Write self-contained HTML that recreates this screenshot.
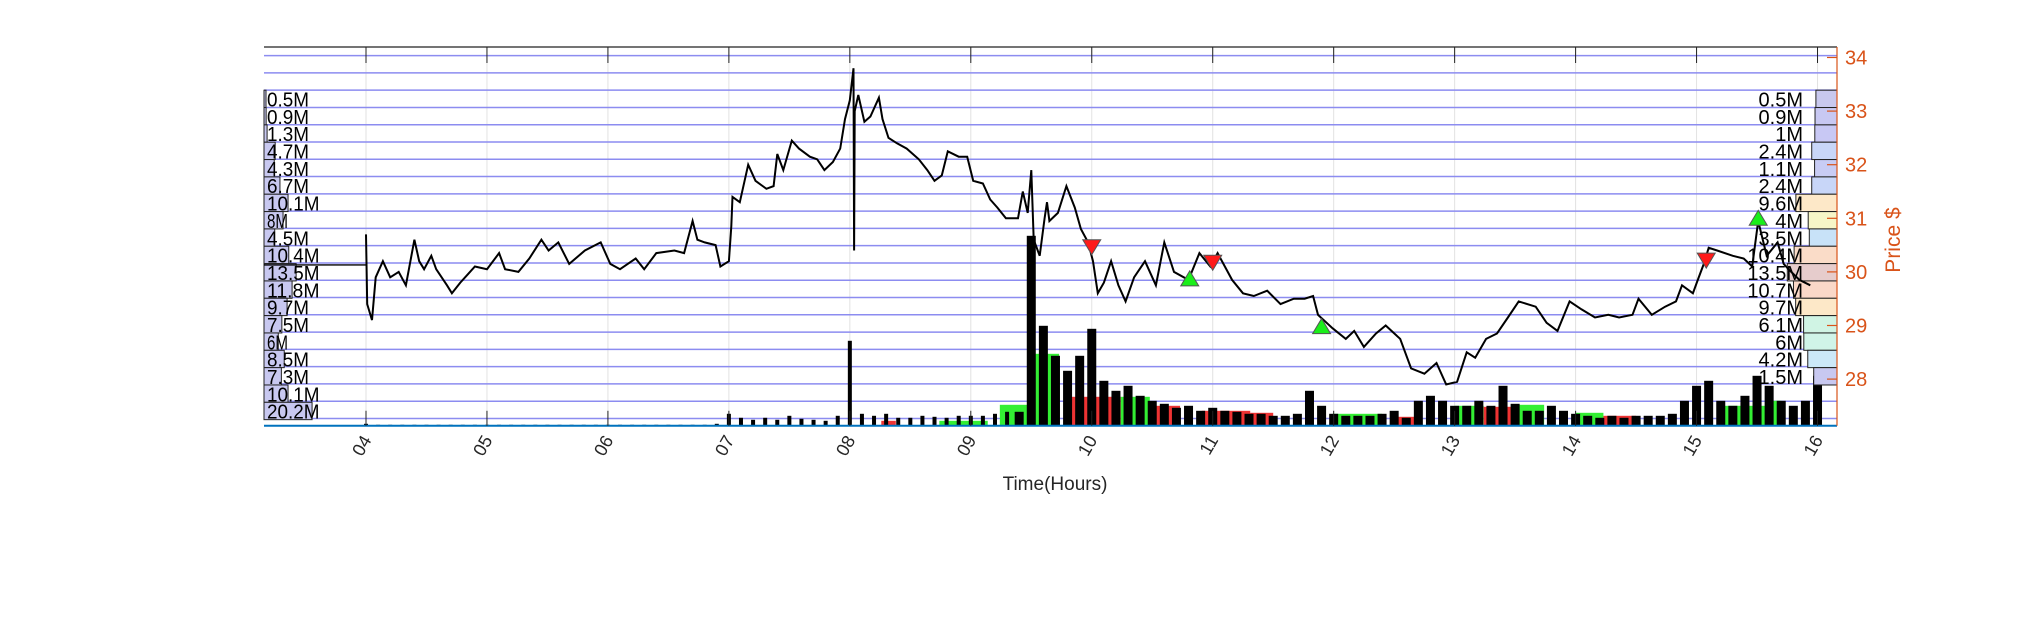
<!DOCTYPE html>
<html><head><meta charset="utf-8"><style>
html,body{margin:0;padding:0;background:#fff;}
svg{display:block;font-family:"Liberation Sans",sans-serif;}
</style></head><body>
<svg id="chart" width="2031" height="625" viewBox="0 0 2031 625" xmlns="http://www.w3.org/2000/svg">
<rect width="2031" height="625" fill="#fff"/>
<g id="grid"></g><g id="vol"></g><g id="profileL"></g><g id="profileR"></g><g id="price"></g><g id="marks"></g><g id="axes"></g>
</svg>
<script>
const hourTicks=["04","05","06","07","08","09","10","11","12","13","14","15","16"];
const priceTicks=[28,29,30,31,32,33,34];
const priceHours=[4.00,4.01,4.05,4.08,4.14,4.20,4.27,4.33,4.40,4.44,4.48,4.54,4.58,4.67,4.71,4.78,4.84,4.90,5.00,5.10,5.15,5.26,5.35,5.45,5.51,5.59,5.68,5.81,5.94,6.02,6.10,6.23,6.30,6.40,6.55,6.63,6.70,6.74,6.80,6.89,6.93,7.00,7.02,7.03,7.09,7.16,7.22,7.31,7.37,7.40,7.45,7.52,7.58,7.67,7.73,7.79,7.86,7.92,7.96,8.00,8.03,8.035,8.04,8.07,8.12,8.17,8.24,8.27,8.32,8.39,8.47,8.57,8.64,8.70,8.76,8.81,8.90,8.97,9.02,9.10,9.16,9.22,9.29,9.39,9.43,9.47,9.50,9.52,9.57,9.61,9.63,9.65,9.72,9.79,9.86,9.91,9.97,10.01,10.05,10.10,10.16,10.22,10.28,10.35,10.44,10.53,10.60,10.68,10.80,10.89,10.98,11.04,11.16,11.25,11.34,11.45,11.56,11.67,11.76,11.83,11.87,11.99,12.10,12.17,12.25,12.35,12.43,12.55,12.64,12.75,12.85,12.93,13.02,13.10,13.17,13.26,13.35,13.44,13.53,13.67,13.76,13.85,13.95,14.05,14.16,14.27,14.36,14.47,14.52,14.63,14.74,14.83,14.88,14.97,15.01,15.06,15.10,15.17,15.30,15.39,15.46,15.51,15.58,15.67,15.72,15.76,15.85,15.94];
const prices=[30.7,29.4,29.1,29.9,30.2,29.9,30.0,29.75,30.6,30.2,30.05,30.3,30.05,29.75,29.6,29.8,29.95,30.1,30.05,30.35,30.05,30.0,30.25,30.6,30.4,30.55,30.15,30.4,30.55,30.15,30.05,30.25,30.05,30.35,30.4,30.35,30.95,30.6,30.55,30.5,30.1,30.2,30.85,31.4,31.3,32.0,31.7,31.55,31.6,32.2,31.9,32.45,32.3,32.15,32.1,31.9,32.05,32.3,32.85,33.2,33.8,30.4,33.0,33.3,32.8,32.9,33.25,32.85,32.5,32.4,32.3,32.1,31.9,31.7,31.8,32.25,32.15,32.15,31.7,31.65,31.35,31.2,31.0,31.0,31.5,31.1,31.9,30.6,30.3,31.0,31.3,30.95,31.1,31.6,31.2,30.8,30.55,30.2,29.6,29.8,30.2,29.75,29.45,29.9,30.2,29.75,30.55,30.0,29.85,30.35,30.1,30.35,29.85,29.6,29.55,29.65,29.4,29.5,29.5,29.55,29.2,28.95,28.75,28.9,28.6,28.85,29.0,28.75,28.2,28.1,28.3,27.9,27.95,28.5,28.4,28.75,28.85,29.15,29.45,29.35,29.05,28.9,29.45,29.3,29.15,29.2,29.15,29.2,29.5,29.2,29.35,29.45,29.75,29.6,29.85,30.15,30.45,30.4,30.3,30.25,30.1,30.95,30.3,30.55,30.15,30.05,29.85,29.75];
const openPrice=30.13;
const sellHours=[10.0,11.0,15.08];
const sellPrices=[30.47,30.18,30.22];
const buyHours=[10.81,11.9,15.51];
const buyPrices=[29.87,28.98,31.0];
const volHours0=4.0;
const volumes=[2,1,1,1,1,1,1,1,1,1, 1,1,1,1,1,1,1,1,1,1, 1,1,1,1,1,1,1,1,1,2, 12,8,6,8,6,10,7,6,5,10, 85,12,10,12,8,8,10,9,8,10, 10,10,12,14,14,190,100,70,55,70, 97,45,35,40,30,25,22,18,20,15, 18,15,14,12,12,10,10,12,35,20, 12,10,10,10,12,15,8,25,30,25, 20,20,25,20,40,22,15,15,20,15, 12,10,8,10,8,10,10,10,12,25, 40,45,25,20,30,50,40,25,20,25, 50];
const blockStart=[8.26,8.74,9.24,9.5,9.82,10.24,10.53,10.91,11.31,11.99,12.52,13.0,13.24,13.51,14.0,14.23,15.22,15.62];
const blockEnd=[8.38,9.14,9.48,9.73,10.24,10.48,10.73,11.31,11.5,12.4,12.7,13.24,13.49,13.74,14.23,14.5,15.62,15.7];
const blockVol=[5,5,21,72,29,29,20,15,13,12,9,20,19,21,13,10,20,25];
const blockUp=[0,1,1,1,0,1,0,0,0,1,0,1,0,1,1,0,1,1];
const leftProfile=[0.5,0.9,1.3,4.7,4.3,6.7,10.1,8,4.5,10.4,13.5,11.8,9.7,7.5,6,8.5,7.3,10.1,20.2];
const rightProfile=[0.5,0.9,1,2.4,1.1,2.4,9.6,4,3.5,10.4,13.5,10.7,9.7,6.1,6,4.2,1.5];
const rightColors=["#c8c8ee","#c8c8f2","#c8c8f4","#c8d6f8","#c8ccf4","#c8d6f8","#fde8c8","#f6f6c8","#c8e2f8","#fadcc8","#e6cccc","#fad8c8","#fde8c8","#d0f4e4","#d0f4e8","#cce8f8","#c8c8f0"];

const L=264,R=1837,T=47,B=425.8;
const X=h=>366+(h-4)*120.96;
const Y=p=>271.9-(p-30)*53.6;
const V=v=>B-v;
const NS="http://www.w3.org/2000/svg";
function mk(parent,tag,attrs){const e=document.createElementNS(NS,tag);for(const k in attrs)e.setAttribute(k,attrs[k]);document.getElementById(parent).appendChild(e);return e;}

for(let i=0;i<hourTicks.length;i++){const x=X(4+i);
 const g=mk("grid","line",{x1:x,x2:x,y1:T,y2:B,stroke:"#e2e2e2","stroke-width":1});
 
 }
for(let k=0;k<22;k++){const y=55.6+k*17.28;
 const g=mk("grid","line",{x1:L,x2:R,y1:y,y2:y,stroke:"#8c8cf0","stroke-width":1.5});
 
 }

for(let i=0;i<blockStart.length;i++){
 const r=mk("vol","rect",{x:X(blockStart[i]),y:V(blockVol[i]),width:X(blockEnd[i])-X(blockStart[i]),height:blockVol[i],fill:blockUp[i]?"#33ee33":"#ee3333"});
 
 }
for(let i=0;i<volumes.length;i++){const h=volHours0+i*0.1;
 const w=i>=54?9:4;
 const r=mk("vol","rect",{x:X(h)-w/2,y:V(volumes[i]),width:w,height:volumes[i],fill:"#000"});
 
 }

const rowTop=90.2,rowH=17.34;
for(let i=0;i<leftProfile.length;i++){const y=rowTop+i*rowH;
 const r=mk("profileL","rect",{x:L,y:y,width:Math.max(2,leftProfile[i]*2.38),height:rowH,fill:"#c8c8f0",stroke:"#222","stroke-width":1});
 
 
 const t=mk("profileL","text",{x:L+3,y:y+rowH-1,"font-size":20,fill:"#000",textLength:(String(leftProfile[i]).length+1)*10.5,lengthAdjust:"spacingAndGlyphs"});t.textContent=leftProfile[i]+"M";
 
 }
for(let i=0;i<rightProfile.length;i++){const y=rowTop+i*rowH;const w=20+2.2*rightProfile[i];
 const r=mk("profileR","rect",{x:R-w,y:y,width:w,height:rowH,fill:rightColors[i],stroke:"#222","stroke-width":1});
 
 
 const t=mk("profileR","text",{x:1803,y:y+rowH-1,"font-size":20,"text-anchor":"end",fill:"#000"});t.textContent=rightProfile[i]+"M";
 
 }

const flat=mk("price","line",{x1:L,x2:X(4),y1:Y(openPrice),y2:Y(openPrice),stroke:"#000","stroke-width":1.3});


const pts=priceHours.map((h,i)=>X(h).toFixed(1)+","+Y(prices[i]).toFixed(1)).join(" ");
const pl=mk("price","polyline",{points:pts,fill:"none",stroke:"#000","stroke-width":2,"stroke-linejoin":"miter"});



for(let i=0;i<sellHours.length;i++){const x=X(sellHours[i]),y=Y(sellPrices[i]);
 const p=mk("marks","polygon",{points:`${x-9},${y-7} ${x+9},${y-7} ${x},${y+8}`,fill:"#ff1a1a",stroke:"#555","stroke-width":1});
 
 }
for(let i=0;i<buyHours.length;i++){const x=X(buyHours[i]),y=Y(buyPrices[i]);
 const p=mk("marks","polygon",{points:`${x-9},${y+7} ${x+9},${y+7} ${x},${y-8}`,fill:"#1aee1a",stroke:"#555","stroke-width":1});
 
 }

let a=mk("axes","line",{x1:L,x2:R,y1:T,y2:T,stroke:"#222","stroke-width":1.2});

a=mk("axes","line",{x1:L,x2:R,y1:B,y2:B,stroke:"#0072BD","stroke-width":2});

a=mk("axes","line",{x1:R,x2:R,y1:T,y2:B,stroke:"#D95319","stroke-width":1.2});

for(let i=0;i<hourTicks.length;i++){const x=X(4+i);
 const tk=mk("axes","line",{x1:x,x2:x,y1:T,y2:T+16,stroke:"#222","stroke-width":1});
 
 
 const tb=mk("axes","line",{x1:x,x2:x,y1:B-15,y2:B,stroke:"#222","stroke-width":1});
 
 
 const t=mk("axes","text",{x:x+6,y:440,"font-size":18,"text-anchor":"end",fill:"#262626",transform:`rotate(-60 ${x+6} 440)`});
 t.textContent=hourTicks[i];
 
 }
for(const p of priceTicks){const y=Y(p);
 const tk=mk("axes","line",{x1:R-10,x2:R,y1:y,y2:y,stroke:"#D95319","stroke-width":1.2});
 
 
 const t=mk("axes","text",{x:R+8,y:y+7,"font-size":20,fill:"#D95319"});t.textContent=p;
 
 }
let t=mk("axes","text",{x:1055,y:490,"font-size":19,"text-anchor":"middle",fill:"#262626"});t.textContent="Time(Hours)";

t=mk("axes","text",{x:1900,y:240,"font-size":21,"text-anchor":"middle",fill:"#D95319",transform:"rotate(-90 1900 240)"});t.textContent="Price $";

</script>
</body></html>
